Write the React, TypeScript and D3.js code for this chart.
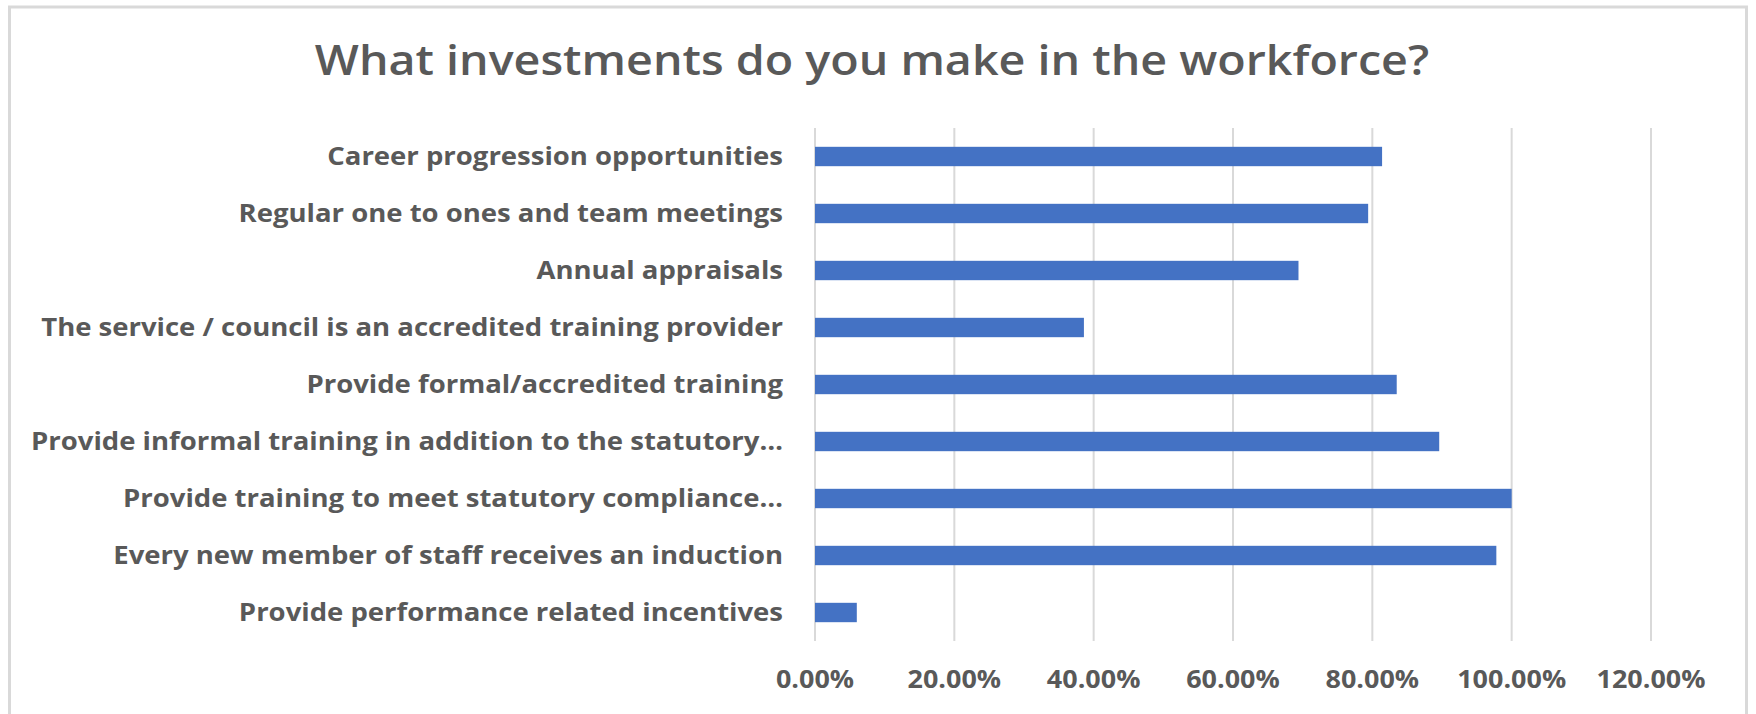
import React from "react";
import * as d3 from "d3";

const title = "What investments do you make in the workforce?";
const categories = [
  "Career progression opportunities",
  "Regular one to ones and team meetings",
  "Annual appraisals",
  "The service / council is an accredited training provider",
  "Provide formal/accredited training",
  "Provide informal training in addition to the statutory…",
  "Provide training to meet statutory compliance…",
  "Every new member of staff receives an induction",
  "Provide performance related incentives",
];
const values = [0.814, 0.794, 0.694, 0.386, 0.835, 0.896, 1.0, 0.978, 0.06];
const ticks = [0, 0.2, 0.4, 0.6, 0.8, 1.0, 1.2];

const W = 1756;
const H = 714;
const FONT = "'Open Sans', 'Noto Sans', sans-serif";
const TEXT = "#595959";
const GRID = "#d9d9d9";
const BAR = "#4472C4";

export default function App() {
  const x = d3.scaleLinear().domain([0, 1.2]).range([815, 1651]);
  const y = d3
    .scaleBand<string>()
    .domain(categories)
    .range([128, 641])
    .paddingInner(0.66)
    .paddingOuter(0.33);
  const fmt = d3.format(".2%");

  return (
    <svg
      width={W}
      height={H}
      style={{ position: "absolute", left: 0, top: 0, background: "#fff" }}
    >
      <rect x={0} y={0} width={W} height={H} fill="#fff" />
      <rect
        x={9.5}
        y={7}
        width={1737}
        height={730}
        fill="#fff"
        stroke={GRID}
        strokeWidth={3}
      />
      <text
        transform={`translate(872,75) scale(1.11,1)`}
        textAnchor="middle"
        fontFamily={FONT}
        fontSize={42}
        fontWeight={600}
        fill={TEXT}
      >
        {title}
      </text>
      {ticks.map((t) => (
        <line
          key={"g" + t}
          x1={x(t)}
          x2={x(t)}
          y1={128}
          y2={641}
          stroke={GRID}
          strokeWidth={2}
        />
      ))}
      {categories.map((c, i) => (
        <rect
          key={"b" + i}
          x={x(0)}
          y={y(c)}
          width={x(values[i]) - x(0)}
          height={y.bandwidth()}
          fill={BAR}
        />
      ))}
      {categories.map((c, i) => (
        <text
          key={"l" + i}
          transform={`translate(783,${(y(c) as number) + y.bandwidth() / 2}) scale(1.1,1)`}
          dy="0.35em"
          textAnchor="end"
          fontFamily={FONT}
          fontSize={25}
          fontWeight={700}
          fill={TEXT}
        >
          {c}
        </text>
      ))}
      {ticks.map((t) => (
        <text
          key={"t" + t}
          transform={`translate(${x(t)},688) scale(1.1,1)`}
          textAnchor="middle"
          fontFamily={FONT}
          fontSize={24.5}
          fontWeight={700}
          fill={TEXT}
        >
          {fmt(t)}
        </text>
      ))}
    </svg>
  );
}
